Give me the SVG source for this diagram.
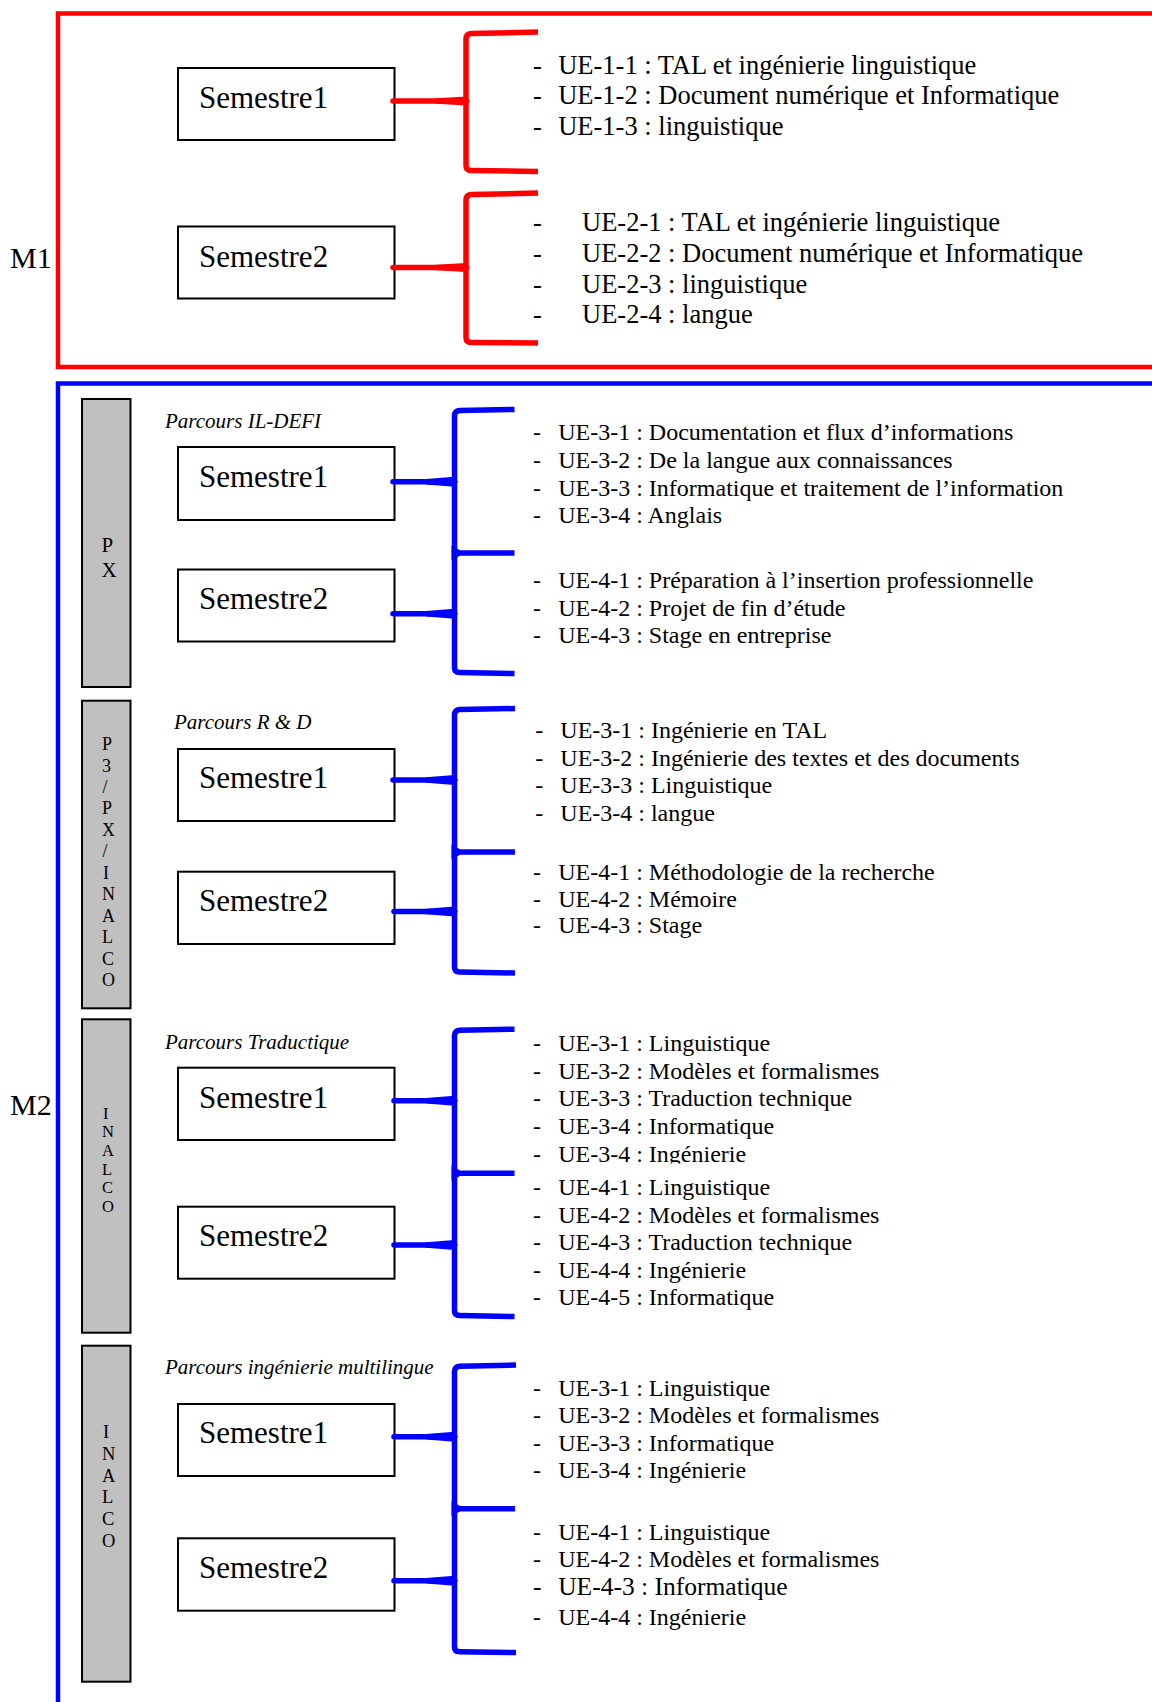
<svg xmlns="http://www.w3.org/2000/svg" width="1152" height="1702" viewBox="0 0 1152 1702">
<style>
text { font-family: "Liberation Serif", "Times New Roman", serif; fill: #000; }
.box { fill: #fff; stroke: #000; stroke-width: 2; }
.sem { font-size: 31px; }
.ue1 { font-size: 26.5px; }
.ue { font-size: 24px; }
.par { font-size: 21px; font-style: italic; }
.big { font-size: 30px; }
.bar { fill: #c0c0c0; stroke: #000; stroke-width: 2; }
.bl1 { font-size: 21px; }
.bl2 { font-size: 18px; }
.bl3 { font-size: 16.5px; }
.bl4 { font-size: 18.5px; }
.rb { fill: none; stroke: #ff0000; stroke-width: 5.5; stroke-linejoin: round; }
.bb { fill: none; stroke: #0000ff; stroke-width: 5.5; stroke-linejoin: round; }
.rs { fill: none; stroke: #ff0000; stroke-width: 5.5; stroke-linecap: round; }
.bs { fill: none; stroke: #0000ff; stroke-width: 5.5; stroke-linecap: round; }
.rf { fill: #ff0000; }
.bf { fill: #0000ff; }
</style>
<defs>
<clipPath id="clipL"><rect x="520" y="1130" width="300" height="33.5"/></clipPath>
</defs>
<rect width="1152" height="1702" fill="#fff"/>

<!-- frames -->
<g id="frame-M1">
<rect x="58" y="13.5" width="1200" height="353.5" fill="none" stroke="#ff0000" stroke-width="4.5"/>
<text class="big" x="10" y="268">M1</text>
</g>
<g id="frame-M2">
<rect x="58" y="383.5" width="1200" height="1400" fill="none" stroke="#0000ff" stroke-width="4.5"/>
<text class="big" x="10" y="1115">M2</text>
</g>

<!-- side bars -->
<g id="bar-PX">
<rect class="bar" x="82" y="399" width="48.5" height="288"/>
<text class="bl1"><tspan x="101.5" y="551.7">P</tspan><tspan x="101.5" y="577.3">X</tspan></text>
</g>
<g id="bar-P3PXINALCO">
<rect class="bar" x="82" y="700.7" width="48.5" height="307.6"/>
<text class="bl2"><tspan x="102" y="750">P</tspan><tspan x="102" y="771.5">3</tspan><tspan x="102.5" y="792.9">/</tspan><tspan x="102" y="814.3">P</tspan><tspan x="102" y="835.8">X</tspan><tspan x="102.5" y="857.2">/</tspan><tspan x="103" y="878.7">I</tspan><tspan x="102" y="900.1">N</tspan><tspan x="102" y="921.6">A</tspan><tspan x="102" y="943">L</tspan><tspan x="102" y="964.5">C</tspan><tspan x="102" y="986">O</tspan></text>
</g>
<g id="bar-INALCO-1">
<rect class="bar" x="82" y="1019.3" width="48.5" height="313.4"/>
<text class="bl3"><tspan x="103" y="1118.5">I</tspan><tspan x="102" y="1137.2">N</tspan><tspan x="102" y="1155.8">A</tspan><tspan x="102" y="1174.5">L</tspan><tspan x="102" y="1193.1">C</tspan><tspan x="102" y="1211.8">O</tspan></text>
</g>
<g id="bar-INALCO-2">
<rect class="bar" x="82" y="1345.7" width="48.5" height="336"/>
<text class="bl4"><tspan x="103" y="1438.3">I</tspan><tspan x="102" y="1460">N</tspan><tspan x="102" y="1481.7">A</tspan><tspan x="102" y="1503.4">L</tspan><tspan x="102" y="1525.1">C</tspan><tspan x="102" y="1546.8">O</tspan></text>
</g>

<!-- parcours labels -->
<g id="label-ildefi"><text class="par" x="165" y="428.3">Parcours IL-DEFI</text></g>
<g id="label-rd"><text class="par" x="174" y="729.3">Parcours R &amp; D</text></g>
<g id="label-trad"><text class="par" x="165" y="1049.3">Parcours Traductique</text></g>
<g id="label-multi"><text class="par" x="165" y="1374.3">Parcours ingénierie multilingue</text></g>

<!-- semester nodes -->
<g id="m1-s1"><rect class="box" x="178" y="68" width="216.5" height="72"/><text class="sem" x="199" y="107.5">Semestre1</text></g>
<g id="m1-s2"><rect class="box" x="178" y="226.5" width="216.5" height="72"/><text class="sem" x="199" y="266.7">Semestre2</text></g>
<g id="ildefi-s1"><rect class="box" x="178" y="447" width="216.5" height="73"/><text class="sem" x="199" y="487.3">Semestre1</text></g>
<g id="ildefi-s2"><rect class="box" x="178" y="569.5" width="216.5" height="72"/><text class="sem" x="199" y="609.3">Semestre2</text></g>
<g id="rd-s1"><rect class="box" x="178" y="749" width="216.5" height="72"/><text class="sem" x="199" y="788.3">Semestre1</text></g>
<g id="rd-s2"><rect class="box" x="178" y="871.7" width="216.5" height="72.3"/><text class="sem" x="199" y="911">Semestre2</text></g>
<g id="trad-s1"><rect class="box" x="178" y="1067.7" width="216.5" height="72.3"/><text class="sem" x="199" y="1107.7">Semestre1</text></g>
<g id="trad-s2"><rect class="box" x="178" y="1206.7" width="216.5" height="72"/><text class="sem" x="199" y="1246">Semestre2</text></g>
<g id="multi-s1"><rect class="box" x="178" y="1404" width="216.5" height="72"/><text class="sem" x="199" y="1443.3">Semestre1</text></g>
<g id="multi-s2"><rect class="box" x="178" y="1538.3" width="216.5" height="72.4"/><text class="sem" x="199" y="1577.7">Semestre2</text></g>

<!-- UE lists -->
<g id="list-m1-s1">
<text class="ue1"><tspan x="533" y="74.3">-</tspan><tspan x="558.2" y="74.3">UE-1-1 : TAL et ingénierie linguistique</tspan></text>
<text class="ue1"><tspan x="533" y="104">-</tspan><tspan x="558.2" y="104">UE-1-2 : Document numérique et Informatique</tspan></text>
<text class="ue1"><tspan x="533" y="135.3">-</tspan><tspan x="558.2" y="135.3">UE-1-3 : linguistique</tspan></text>
</g>
<g id="list-m1-s2">
<text class="ue1"><tspan x="533" y="231">-</tspan><tspan x="582" y="231">UE-2-1 : TAL et ingénierie linguistique</tspan></text>
<text class="ue1"><tspan x="533" y="261.7">-</tspan><tspan x="582" y="261.7">UE-2-2 : Document numérique et Informatique</tspan></text>
<text class="ue1"><tspan x="533" y="292.7">-</tspan><tspan x="582" y="292.7">UE-2-3 : linguistique</tspan></text>
<text class="ue1"><tspan x="533" y="323">-</tspan><tspan x="582" y="323">UE-2-4 : langue</tspan></text>
</g>
<g id="list-ildefi-s1">
<text class="ue"><tspan x="533" y="440">-</tspan><tspan x="558.2" y="440">UE-3-1 : Documentation et flux d’informations</tspan></text>
<text class="ue"><tspan x="533" y="467.7">-</tspan><tspan x="558.2" y="467.7">UE-3-2 : De la langue aux connaissances</tspan></text>
<text class="ue"><tspan x="533" y="495.7">-</tspan><tspan x="558.2" y="495.7">UE-3-3 : Informatique et traitement de l’information</tspan></text>
<text class="ue"><tspan x="533" y="523.3">-</tspan><tspan x="558.2" y="523.3">UE-3-4 : Anglais</tspan></text>
</g>
<g id="list-ildefi-s2">
<text class="ue"><tspan x="533" y="587.7">-</tspan><tspan x="558.2" y="587.7">UE-4-1 : Préparation à l’insertion professionnelle</tspan></text>
<text class="ue"><tspan x="533" y="615.5">-</tspan><tspan x="558.2" y="615.5">UE-4-2 : Projet de fin d’étude</tspan></text>
<text class="ue"><tspan x="533" y="642.5">-</tspan><tspan x="558.2" y="642.5">UE-4-3 : Stage en entreprise</tspan></text>
</g>
<g id="list-rd-s1">
<text class="ue"><tspan x="535.3" y="737.7">-</tspan><tspan x="560.3" y="737.7">UE-3-1 : Ingénierie en TAL</tspan></text>
<text class="ue"><tspan x="535.3" y="765.7">-</tspan><tspan x="560.3" y="765.7">UE-3-2 : Ingénierie des textes et des documents</tspan></text>
<text class="ue"><tspan x="535.3" y="793.3">-</tspan><tspan x="560.3" y="793.3">UE-3-3 : Linguistique</tspan></text>
<text class="ue"><tspan x="535.3" y="820.7">-</tspan><tspan x="560.3" y="820.7">UE-3-4 : langue</tspan></text>
</g>
<g id="list-rd-s2">
<text class="ue"><tspan x="533" y="880">-</tspan><tspan x="558.2" y="880">UE-4-1 : Méthodologie de la recherche</tspan></text>
<text class="ue"><tspan x="533" y="906.7">-</tspan><tspan x="558.2" y="906.7">UE-4-2 : Mémoire</tspan></text>
<text class="ue"><tspan x="533" y="933.3">-</tspan><tspan x="558.2" y="933.3">UE-4-3 : Stage</tspan></text>
</g>
<g id="list-trad-s1">
<text class="ue"><tspan x="533" y="1050.7">-</tspan><tspan x="558.2" y="1050.7">UE-3-1 : Linguistique</tspan></text>
<text class="ue"><tspan x="533" y="1078.5">-</tspan><tspan x="558.2" y="1078.5">UE-3-2 : Modèles et formalismes</tspan></text>
<text class="ue"><tspan x="533" y="1106">-</tspan><tspan x="558.2" y="1106">UE-3-3 : Traduction technique</tspan></text>
<text class="ue"><tspan x="533" y="1133.5">-</tspan><tspan x="558.2" y="1133.5">UE-3-4 : Informatique</tspan></text>
<text class="ue" clip-path="url(#clipL)"><tspan x="533" y="1161.5">-</tspan><tspan x="558.2" y="1161.5">UE-3-4 : Ingénierie</tspan></text>
</g>
<g id="list-trad-s2">
<text class="ue"><tspan x="533" y="1195">-</tspan><tspan x="558.2" y="1195">UE-4-1 : Linguistique</tspan></text>
<text class="ue"><tspan x="533" y="1222.5">-</tspan><tspan x="558.2" y="1222.5">UE-4-2 : Modèles et formalismes</tspan></text>
<text class="ue"><tspan x="533" y="1250">-</tspan><tspan x="558.2" y="1250">UE-4-3 : Traduction technique</tspan></text>
<text class="ue"><tspan x="533" y="1277.5">-</tspan><tspan x="558.2" y="1277.5">UE-4-4 : Ingénierie</tspan></text>
<text class="ue"><tspan x="533" y="1305">-</tspan><tspan x="558.2" y="1305">UE-4-5 : Informatique</tspan></text>
</g>
<g id="list-multi-s1">
<text class="ue"><tspan x="533" y="1396">-</tspan><tspan x="558.2" y="1396">UE-3-1 : Linguistique</tspan></text>
<text class="ue"><tspan x="533" y="1423.3">-</tspan><tspan x="558.2" y="1423.3">UE-3-2 : Modèles et formalismes</tspan></text>
<text class="ue"><tspan x="533" y="1450.7">-</tspan><tspan x="558.2" y="1450.7">UE-3-3 : Informatique</tspan></text>
<text class="ue"><tspan x="533" y="1478.3">-</tspan><tspan x="558.2" y="1478.3">UE-3-4 : Ingénierie</tspan></text>
</g>
<g id="list-multi-s2">
<text class="ue"><tspan x="533" y="1540">-</tspan><tspan x="558.2" y="1540">UE-4-1 : Linguistique</tspan></text>
<text class="ue"><tspan x="533" y="1567.3">-</tspan><tspan x="558.2" y="1567.3">UE-4-2 : Modèles et formalismes</tspan></text>
<text class="ue" style="font-size:25.5px"><tspan x="533" y="1595">-</tspan><tspan x="558.2" y="1595">UE-4-3 : Informatique</tspan></text>
<text class="ue"><tspan x="533" y="1625">-</tspan><tspan x="558.2" y="1625">UE-4-4 : Ingénierie</tspan></text>
</g>

<!-- connectors (braces) -->
<g id="connectors">
<!-- M1 S1 -->
<path class="rb" d="M538,32 L471,33.5 Q466,34 466,39 L466,165.5 Q466,170.5 471,170.5 L538,171.5"/>
<path class="rs" d="M393,101 L462,101"/>
<polygon class="rf" points="436,98.3 466,96.5 470,101 466,105.5 436,103.7"/>
<!-- M1 S2 -->
<path class="rb" d="M538,193 L471,194.5 Q466,195 466,200 L466,337.5 Q466,342.5 471,342.5 L538,343"/>
<path class="rs" d="M393,267.5 L462,267.5"/>
<polygon class="rf" points="436,264.8 466,263 470,267.5 466,272 436,270.2"/>

<!-- IL-DEFI -->
<path class="bb" d="M514.5,409.5 L459.5,410.5 Q454.5,411 454.5,416 L454.5,667.5 Q454.5,672.5 459.5,672.5 L514.5,673.5"/>
<polygon class="bf" points="451.5,545.5 460,550.2 514.5,550.2 514.5,555.8 460,555.8 451.5,560.5"/>
<path class="bs" d="M393,481.7 L451,481.7"/>
<polygon class="bf" points="426,479 454.5,476.7 458,481.7 454.5,486.7 426,484.4"/>
<path class="bs" d="M393,613.7 L451,613.7"/>
<polygon class="bf" points="426,611 454.5,608.7 458,613.7 454.5,618.7 426,616.4"/>

<!-- R&D -->
<path class="bb" d="M515,708.5 L459.5,709.5 Q454.5,710 454.5,715 L454.5,967 Q454.5,972 459.5,972 L515,973"/>
<polygon class="bf" points="451.5,844.5 460,849.2 515,849.2 515,854.8 460,854.8 451.5,859.5"/>
<path class="bs" d="M393,780 L451,780"/>
<polygon class="bf" points="426,777.3 454.5,775 458,780 454.5,785 426,782.7"/>
<path class="bs" d="M394,911.5 L451,911.5"/>
<polygon class="bf" points="426,908.8 454.5,906.5 458,911.5 454.5,916.5 426,914.2"/>

<!-- Traductique -->
<path class="bb" d="M514.5,1029.2 L459.5,1030.2 Q454.5,1030.7 454.5,1035.7 L454.5,1310.5 Q454.5,1315.5 459.5,1315.5 L514.5,1316.5"/>
<polygon class="bf" points="451.5,1165.8 460,1170.5 514.5,1170.5 514.5,1176.1 460,1176.1 451.5,1180.8"/>
<path class="bs" d="M394,1100.7 L451,1100.7"/>
<polygon class="bf" points="426,1098 454.5,1095.7 458,1100.7 454.5,1105.7 426,1103.4"/>
<path class="bs" d="M394,1245 L451,1245"/>
<polygon class="bf" points="426,1242.3 454.5,1240 458,1245 454.5,1250 426,1247.7"/>

<!-- multilingue -->
<path class="bb" d="M516,1365 L459.5,1366.2 Q454.5,1366.7 454.5,1371.7 L454.5,1646.7 Q454.5,1651.7 459.5,1651.7 L516,1652.5"/>
<polygon class="bf" points="451.5,1501.2 460,1505.9 515,1505.9 515,1511.5 460,1511.5 451.5,1516.2"/>
<path class="bs" d="M394,1436.7 L451,1436.7"/>
<polygon class="bf" points="426,1434 454.5,1431.7 458,1436.7 454.5,1441.7 426,1439.4"/>
<path class="bs" d="M394,1580.8 L451,1580.8"/>
<polygon class="bf" points="426,1578.1 454.5,1575.8 458,1580.8 454.5,1585.8 426,1583.5"/>
</g>
</svg>
